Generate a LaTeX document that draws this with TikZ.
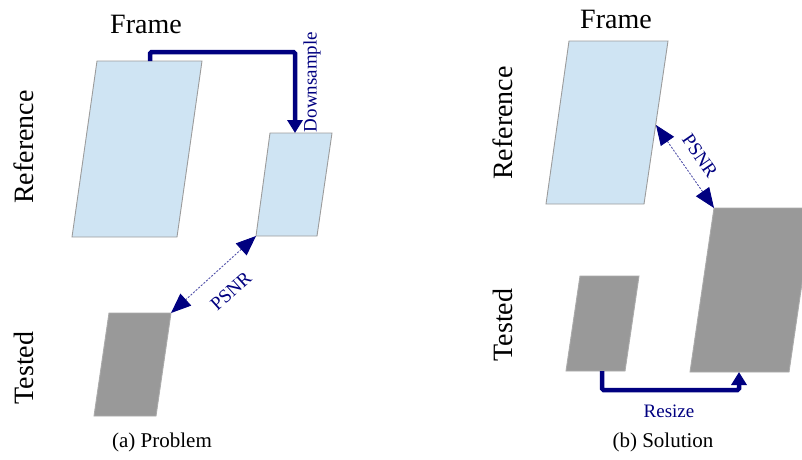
\documentclass[tikz,border=0pt]{standalone}
\usepackage{fontspec}
\setmainfont{Liberation Serif}
\usetikzlibrary{arrows.meta}
\definecolor{refblue}{HTML}{CFE4F3}
\definecolor{edgegray}{HTML}{9C9C9C}
\definecolor{testgray}{HTML}{999999}
\definecolor{testedge}{HTML}{ABABAB}
\definecolor{navyblue}{HTML}{000080}
\definecolor{dashblue}{HTML}{5050A8}
\begin{document}
\begin{tikzpicture}[x=1pt,y=-1pt,
  refbox/.style={fill=refblue,draw=edgegray,line width=0.9pt},
  testbox/.style={fill=testgray,draw=testedge,line width=0.9pt},
  bigarrow/.style={draw=navyblue,line width=4.5pt,rounded corners=1.5pt,
    -{Triangle[length=13pt,width=15pt]}},
  psnrarrow/.style={draw=dashblue,line width=0.9pt,dash pattern=on 2pt off 1.5pt,
    {Triangle[length=20pt,width=16pt,color=navyblue]}-{Triangle[length=20pt,width=16pt,color=navyblue]}},
  biglabel/.style={font=\fontsize{28}{30}\selectfont,inner sep=0pt},
  bluelabel/.style={text=navyblue,font=\fontsize{19}{21}\selectfont,inner sep=0pt},
  caplabel/.style={font=\fontsize{21}{23}\selectfont,inner sep=0pt}]
\useasboundingbox (0,0) rectangle (802,459);
\clip (0,0) rectangle (802,459);

% ---------- panel (a) ----------
\coordinate (aR1) at (97,61);  \coordinate (aR2) at (202,61);
\coordinate (aR3) at (177,237); \coordinate (aR4) at (72,237);
\filldraw[refbox] (aR1) -- (aR2) -- (aR3) -- (aR4) -- cycle;

\coordinate (aD1) at (270,133); \coordinate (aD2) at (332,133);
\coordinate (aD3) at (317,236); \coordinate (aD4) at (256,236);
\filldraw[refbox] (aD1) -- (aD2) -- (aD3) -- (aD4) -- cycle;

\coordinate (aT1) at (109,313); \coordinate (aT2) at (171,313);
\coordinate (aT3) at (156,416); \coordinate (aT4) at (94,416);
\filldraw[testbox] (aT1) -- (aT2) -- (aT3) -- (aT4) -- cycle;

\coordinate (aStart) at (150,61);
\coordinate (aEnd) at (295,133);
\draw[bigarrow] (aStart) -- (150,52) -- (295,52) -- (aEnd);

\draw[psnrarrow] (aD4) -- (aT2);

\node[biglabel] (aframe) at (146,24) {Frame};
\node[biglabel,rotate=90] (aref) at (24,147) {Reference};
\node[biglabel,rotate=90] (atest) at (24,368) {Tested};
\node[bluelabel,rotate=90] (adown) at (312,82) {Downsample};
\node[bluelabel,rotate=42] (apsnr) at (231,291) {PSNR};
\node[caplabel] (acap) at (162,442) {(a) Problem};

% ---------- panel (b) ----------
\coordinate (bR1) at (569,41);  \coordinate (bR2) at (668,41);
\coordinate (bR3) at (644,204); \coordinate (bR4) at (546,204);
\filldraw[refbox] (bR1) -- (bR2) -- (bR3) -- (bR4) -- cycle;

\coordinate (bT1) at (580,276); \coordinate (bT2) at (639,276);
\coordinate (bT3) at (625,371); \coordinate (bT4) at (566,371);
\filldraw[testbox] (bT1) -- (bT2) -- (bT3) -- (bT4) -- cycle;

\coordinate (bB1) at (714,208); \coordinate (bB2) at (813,208);
\coordinate (bB3) at (789,372); \coordinate (bB4) at (690,372);
\filldraw[testbox] (bB1) -- (bB2) -- (bB3) -- (bB4) -- cycle;

\coordinate (bPs) at (656,125);
\draw[psnrarrow] (bPs) -- (bB1);

\coordinate (bStart) at (602,371);
\coordinate (bEnd) at (739,372);
\draw[bigarrow] (bStart) -- (602,390) -- (739,390) -- (bEnd);

\node[biglabel] (bframe) at (616,19) {Frame};
\node[biglabel,rotate=90] (bref) at (503,123) {Reference};
\node[biglabel,rotate=90] (btest) at (503,325) {Tested};
\node[bluelabel,rotate=-55.5] (bpsnr) at (700,156) {PSNR};
\node[bluelabel] (bresize) at (669,411) {Resize};
\node[caplabel] (bcap) at (663,442) {(b) Solution};
\end{tikzpicture}
\end{document}
